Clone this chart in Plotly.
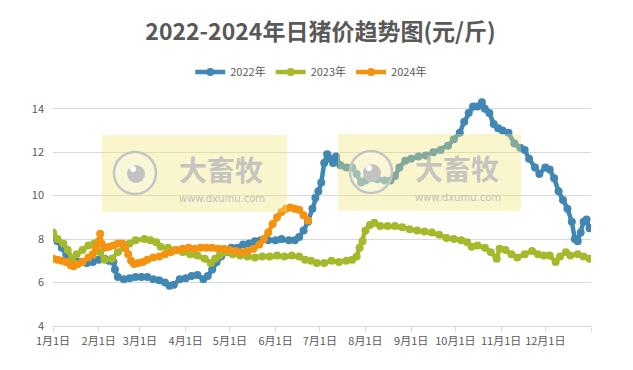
import plotly.graph_objects as go

# ---- data (day-of-year offset from Jan 1, value in 元/斤) ----
month_ticks = [0, 31, 59, 90, 120, 151, 181, 212, 243, 273, 304, 334, 365]
month_labels = ["1月1日", "2月1日", "3月1日", "4月1日", "5月1日", "6月1日",
                "7月1日", "8月1日", "9月1日", "10月1日", "11月1日", "12月1日", ""]

days_2022 = [0, 3, 6, 9, 12, 15, 19, 23, 27, 31, 35, 38, 41, 42, 44, 48, 52, 56, 60, 64,
             68, 72, 76, 79, 82, 86, 90, 94, 98, 102, 105, 108, 111, 114, 118, 121, 125,
             129, 133, 137, 141, 146, 151, 155, 160, 164, 167, 170, 173, 176, 178, 180,
             182, 184, 186, 188, 190, 192, 195, 199, 203, 206, 209, 212, 216, 220, 225,
             229, 232, 235, 239, 243, 248, 253, 258, 263, 268, 272, 276, 279, 282, 285,
             288, 291, 293, 296, 299, 302, 305, 309, 313, 317, 320, 323, 327, 330, 334,
             337, 340, 343, 346, 349, 352, 354, 356, 358, 360, 362, 364]
price_2022 = [8.1, 7.9, 7.6, 7.3, 7.1, 7.0, 6.95, 6.9, 6.95, 7.05, 7.1, 7.0, 6.95, 6.6,
              6.25, 6.15, 6.2, 6.25, 6.25, 6.25, 6.15, 6.1, 6.0, 5.85, 5.9, 6.15, 6.2,
              6.3, 6.35, 6.15, 6.3, 6.6, 6.95, 7.2, 7.4, 7.6, 7.6, 7.75, 7.8, 7.9, 7.95,
              7.95, 7.95, 8.0, 7.95, 7.95, 8.1, 8.4, 8.8, 9.4, 9.9, 10.2, 10.6, 11.5,
              11.9, 11.7, 11.5, 11.8, 11.4, 11.3, 11.3, 11.0, 10.6, 10.7, 10.8, 10.75,
              10.7, 10.7, 10.9, 11.3, 11.6, 11.7, 11.8, 11.85, 12.0, 12.1, 12.3, 12.6,
              12.9, 13.4, 13.8, 14.1, 14.1, 14.3, 14.0, 13.8, 13.3, 13.1, 13.0, 12.9,
              12.4, 12.2, 12.1, 11.7, 11.3, 11.0, 11.3, 11.2, 10.8, 10.2, 9.8, 9.4, 8.8,
              8.0, 7.9, 8.3, 8.8, 8.9, 8.5]

days_2023 = [0, 3, 7, 10, 13, 16, 20, 24, 28, 32, 35, 40, 44, 48, 52, 56, 62, 66, 70,
             73, 78, 83, 88, 93, 98, 103, 107, 110, 113, 117, 122, 127, 132, 137, 142,
             147, 152, 157, 162, 167, 171, 175, 179, 184, 189, 194, 199, 203, 206, 208,
             210, 212, 215, 218, 222, 227, 232, 237, 242, 247, 252, 257, 262, 267, 272,
             277, 281, 284, 288, 293, 297, 301, 303, 307, 311, 315, 320, 325, 329, 333,
             337, 341, 344, 348, 351, 356, 360, 364]
price_2023 = [8.3, 8.0, 7.8, 7.5, 7.1, 7.3, 7.5, 7.7, 7.8, 7.4, 7.05, 7.1, 7.4, 7.6,
              7.8, 7.95, 8.0, 7.95, 7.85, 7.65, 7.6, 7.5, 7.4, 7.3, 7.25, 7.1, 6.9, 7.1,
              7.25, 7.4, 7.3, 7.25, 7.2, 7.15, 7.2, 7.2, 7.25, 7.2, 7.25, 7.2, 7.05, 7.0,
              6.9, 6.9, 7.0, 6.95, 7.0, 7.05, 7.2, 7.6, 7.9, 8.4, 8.65, 8.75, 8.6, 8.6,
              8.6, 8.55, 8.45, 8.4, 8.35, 8.3, 8.2, 8.05, 8.0, 7.95, 7.85, 7.65, 7.7, 7.6,
              7.4, 7.1, 7.55, 7.5, 7.3, 7.15, 7.3, 7.45, 7.3, 7.25, 7.25, 6.95, 7.2, 7.4,
              7.25, 7.3, 7.2, 7.1]

days_2024 = [0, 3, 6, 9, 12, 14, 17, 20, 24, 27, 29, 31, 32, 33, 35, 38, 41, 44, 47,
             49, 51, 53, 55, 58, 61, 64, 68, 72, 76, 80, 84, 88, 92, 96, 100, 104, 108,
             112, 116, 120, 124, 128, 132, 136, 140, 143, 146, 149, 152, 155, 158, 161,
             164, 167, 170, 173]
price_2024 = [7.1, 7.05, 7.0, 6.95, 6.8, 6.75, 6.85, 6.95, 7.15, 7.3, 7.6, 7.9, 8.25,
              7.8, 7.6, 7.65, 7.7, 7.8, 7.8, 7.6, 7.3, 7.0, 6.85, 6.9, 6.95, 7.05, 7.15,
              7.2, 7.3, 7.4, 7.5, 7.55, 7.6, 7.55, 7.6, 7.6, 7.6, 7.55, 7.55, 7.5, 7.45,
              7.4, 7.45, 7.55, 7.75, 8.0, 8.3, 8.7, 9.0, 9.25, 9.4, 9.45, 9.4, 9.35, 9.1,
              8.85]

series = [
    ("2022年", days_2022, price_2022, "#4187B3"),
    ("2023年", days_2023, price_2023, "#A6B92C"),
    ("2024年", days_2024, price_2024, "#F39310"),
]

FONT = "Noto Sans CJK SC"
GREY = "#595959"

fig = go.Figure()
for name, x, y, color in series:
    fig.add_trace(go.Scatter(
        x=x, y=y, name=name, mode="lines+markers",
        line=dict(color=color, width=4.5),
        marker=dict(color=color, size=8),
    ))

# page offset (default body margin) and plot area geometry in screen pixels
OFF = 8
FW, FH = 633 - OFF, 370 - OFF
L, R, T, B = 53, 591, 87, 326
W, H = R - L, B - T

def px(x):
    return (x - L) / W

def py(y):
    return (B - y) / H

shapes = []
annotations = []
for (x0, x1, y0, y1) in [(102, 287, 135, 212), (338, 521, 134, 211)]:
    shapes.append(dict(type="rect", xref="paper", yref="paper", layer="above",
                       x0=px(x0), x1=px(x1), y0=py(y1), y1=py(y0),
                       fillcolor="rgba(240,228,120,0.38)", line=dict(width=0)))
    cx, cy = x0 + 33, y0 + 38
    shapes.append(dict(type="circle", xref="paper", yref="paper", layer="above",
                       x0=px(cx - 21), x1=px(cx + 21), y0=py(cy + 21), y1=py(cy - 21),
                       fillcolor="rgba(255,255,255,0.25)",
                       line=dict(color="#C4C4C4", width=2.5)))
    shapes.append(dict(type="circle", xref="paper", yref="paper", layer="above",
                       x0=px(cx - 8), x1=px(cx + 10), y0=py(cy + 10), y1=py(cy - 8),
                       fillcolor="#C2C2C2", line=dict(width=0)))
    shapes.append(dict(type="circle", xref="paper", yref="paper", layer="above",
                       x0=px(cx - 5), x1=px(cx + 1), y0=py(cy - 1), y1=py(cy - 7),
                       fillcolor="#FFFFFF", line=dict(width=0)))
    annotations.append(dict(text="<b>大畜牧</b>", xref="paper", yref="paper",
                            x=px(x0 + 119), y=py(y0 + 34), showarrow=False,
                            xanchor="center", yanchor="middle",
                            font=dict(family=FONT, size=28, color="rgba(190,190,190,0.9)")))
    annotations.append(dict(text="www.dxumu.com", xref="paper", yref="paper",
                            x=px(x0 + 120), y=py(y0 + 63), showarrow=False,
                            xanchor="center", yanchor="middle",
                            font=dict(family="DejaVu Sans", size=10, color="rgba(185,185,185,0.9)")))

fig.update_layout(
    width=FW, height=FH,
    margin=dict(l=L - OFF, r=633 - R, t=T - OFF, b=370 - B, autoexpand=False),
    paper_bgcolor="white", plot_bgcolor="white",
    title=dict(text="<b>2022-2024年日猪价趋势图(元/斤)</b>", x=0.5, xanchor="center",
               y=1 - (32 - OFF) / FH, yanchor="middle", yref="container",
               font=dict(family=FONT, size=23, color=GREY)),
    legend=dict(orientation="h", x=0.48, xanchor="center", y=py(72), yanchor="middle",
                font=dict(family=FONT, size=11, color=GREY), itemwidth=30,
                tracegroupgap=0, bgcolor="rgba(0,0,0,0)"),
    xaxis=dict(range=[0, 365], tickvals=month_ticks, ticktext=month_labels,
               showgrid=False, zeroline=False, showline=True, linecolor="#D9D9D9",
               linewidth=1, ticks="outside", ticklen=5, tickcolor="#D9D9D9",
               tickfont=dict(family=FONT, size=11, color=GREY)),
    yaxis=dict(range=[4, 15], tickvals=[4, 6, 8, 10, 12, 14], showgrid=True,
               gridcolor="#D9D9D9", gridwidth=1, zeroline=False, showline=False,
               tickfont=dict(family=FONT, size=11, color=GREY), ticklabelstandoff=8),
    shapes=shapes, annotations=annotations, showlegend=True,
)

fig.write_html("out.html")
